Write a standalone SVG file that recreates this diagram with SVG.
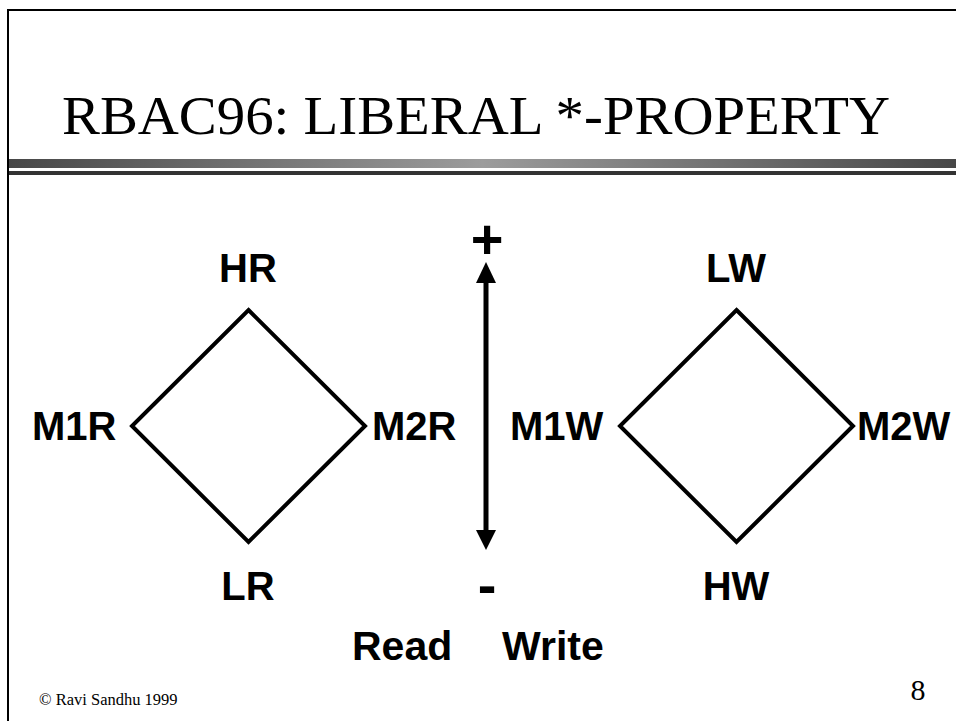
<svg xmlns="http://www.w3.org/2000/svg" width="956" height="721" viewBox="0 0 956 721">
<defs>
<linearGradient id="bar" x1="0" y1="0" x2="1" y2="0">
<stop offset="0" stop-color="#474747"/>
<stop offset="0.5" stop-color="#9c9c9c"/>
<stop offset="1" stop-color="#474747"/>
</linearGradient>
</defs>
<style>
.lbl{font-family:"Liberation Sans",Arial,sans-serif;font-weight:bold;font-size:40px;fill:#000}
.dia{fill:none;stroke:#000;stroke-width:4}
.title{font-family:"Liberation Serif","Times New Roman",serif;font-size:54px;fill:#000}
</style>
<rect width="956" height="721" fill="#fff"/>
<g id="frame">
<path d="M8,721 V10 H956" fill="none" stroke="#000" stroke-width="2"/>
<rect x="9" y="159" width="947" height="9" fill="url(#bar)"/>
<rect x="9" y="171" width="947" height="4" fill="#333"/>
</g>
<text id="title" class="title" x="62" y="134" textLength="828" lengthAdjust="spacingAndGlyphs">RBAC96: LIBERAL *-PROPERTY</text>
<g id="read-lattice">
<polygon class="dia" points="248.5,310 365,426 248.5,542 132,426"/>
<text class="lbl" x="248" y="282" text-anchor="middle">HR</text>
<text class="lbl" x="32" y="440">M1R</text>
<text class="lbl" x="372" y="440">M2R</text>
<text class="lbl" x="248" y="600" text-anchor="middle">LR</text>
</g>
<g id="write-lattice">
<polygon class="dia" points="736.5,310 853,426 736.5,542 620,426"/>
<text class="lbl" x="736" y="282" text-anchor="middle">LW</text>
<text class="lbl" x="510" y="440">M1W</text>
<text class="lbl" x="857" y="440">M2W</text>
<text class="lbl" x="736" y="600" text-anchor="middle">HW</text>
</g>
<g id="connectors">
<line x1="486" y1="530" x2="486" y2="283" stroke="#000" stroke-width="5"/>
<path d="M486,262 L476,283 L496,283 Z" fill="#000"/>
<path d="M486,550 L476,530 L496,530 Z" fill="#000"/>
</g>
<g id="scale">
<text class="lbl" x="487" y="258" text-anchor="middle" style="font-size:56px">+</text>
<text class="lbl" x="487" y="604" text-anchor="middle" style="font-size:56px">-</text>
</g>
<text class="lbl" x="352" y="660" style="font-size:41px">Read</text>
<text class="lbl" x="502" y="660" style="font-size:41px">Write</text>
<text x="39" y="705" font-family="'Liberation Serif','DejaVu Serif',serif" font-size="16.5" fill="#000">© Ravi Sandhu 1999</text>
<text x="918" y="700" text-anchor="middle" font-family="'Liberation Serif','Times New Roman',serif" font-size="30" fill="#000">8</text>
</svg>
